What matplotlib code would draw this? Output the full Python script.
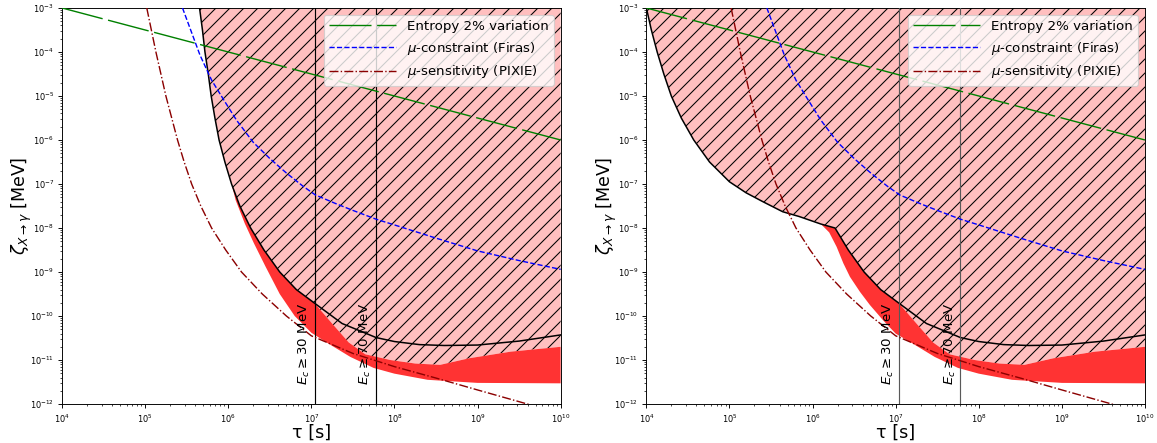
import numpy as np
import matplotlib.pyplot as plt

# all values as log10(tau [s]) and log10(zeta [MeV])

# entropy 2% variation
lt_entropy = [4, 5, 6, 7, 8, 9, 10]
lz_entropy = [-3.0, -3.5, -4.0, -4.5, -5.0, -5.5, -6.0]

# mu-constraint (Firas)
lt_firas = [5.45, 5.66, 5.80, 5.95, 6.10, 6.30, 6.50, 6.70, 6.90, 7.05, 7.30, 7.50, 7.78,
            8.0, 8.5, 9.0, 9.5, 10.0]
lz_firas = [-3.0, -4.07, -4.64, -5.1, -5.55, -6.05, -6.42, -6.75, -7.05, -7.25, -7.45, -7.6, -7.8,
            -7.93, -8.23, -8.52, -8.74, -8.94]

# mu-sensitivity (PIXIE)
lt_pixie = [5.02, 5.075, 5.13, 5.19, 5.25, 5.32, 5.39, 5.47, 5.56, 5.67, 5.80, 5.97, 6.16, 6.41,
            6.70, 7.0, 7.5, 8.0, 8.5, 9.0, 9.6, 9.8]
lz_pixie = [-3.0, -3.5, -4.0, -4.5, -5.0, -5.5, -6.0, -6.5, -7.0, -7.5, -8.0, -8.5, -9.0, -9.5,
            -10.0, -10.45, -10.85, -11.15, -11.41, -11.68, -12.0, -12.12]

# excluded-region boundary (black line), left panel up to 1.1e7
lt_bound_l = [5.655, 5.69, 5.72, 5.76, 5.795, 5.84, 5.89, 5.96, 6.04, 6.14, 6.27, 6.43, 6.62, 6.82]
lz_bound_l = [-3.0, -3.5, -4.0, -4.5, -5.0, -5.5, -6.0, -6.5, -7.0, -7.5, -8.0, -8.5, -9.0, -9.4]

# excluded-region boundary, right panel up to 1.1e7
lt_bound_r = [4.0, 4.06, 4.13, 4.21, 4.30, 4.42, 4.57, 4.76, 5.0, 5.2, 5.4, 5.64, 5.84, 6.10, 6.27,
              6.43, 6.62, 6.82]
lz_bound_r = [-3.0, -3.5, -4.0, -4.5, -5.0, -5.5, -6.0, -6.5, -6.95, -7.2, -7.4, -7.63, -7.74, -7.91,
              -8.0, -8.5, -9.0, -9.4]

# black line beyond 1.1e7 (both panels)
lt_tail = [7.04, 7.37, 7.78, 8.0, 8.3, 8.6, 9.0, 9.5, 10.0]
lz_tail = [-9.71, -10.17, -10.49, -10.58, -10.65, -10.67, -10.66, -10.57, -10.43]

# red band: upper edge beyond 1.1e7 (below it the band reaches the black line)
lt_band_top = [7.04, 7.25, 7.45, 7.65, 7.95, 8.25, 8.55, 8.9, 9.4, 10.0]
lz_band_top = [-9.71, -10.17, -10.6, -10.87, -11.0, -11.08, -11.11, -10.96, -10.81, -10.70]

# red band: lower edges
lt_band_low_l = [6.02, 6.09, 6.2, 6.31, 6.45, 6.62, 6.8, 7.0, 7.2, 7.47, 7.75, 8.0, 8.4, 9.0, 10.0]
lz_band_low_l = [-6.85, -7.37, -7.9, -8.35, -8.88, -9.5, -10.0, -10.38, -10.62, -10.93, -11.18,
                 -11.31, -11.45, -11.52, -11.53]
lt_band_low_r = [6.10, 6.2, 6.29, 6.37, 6.45, 6.57, 6.69, 6.85, 7.0, 7.2, 7.47, 7.75, 8.0, 8.4,
                 9.0, 10.0]
lz_band_low_r = [-7.91, -8.1, -8.43, -8.8, -9.11, -9.45, -9.75, -10.1, -10.4, -10.62, -10.93,
                 -11.18, -11.31, -11.45, -11.52, -11.53]

tau_ec = [1.1e7, 6e7]
ec_labels = [r'$E_c \geq 30$ MeV', r'$E_c \geq 70$ MeV']

plt.rcParams['hatch.linewidth'] = 0.9


def p(v):
    return list(10.0 ** np.array(v))


fig, axes = plt.subplots(1, 2, figsize=(1157 / 84, 443 / 84), dpi=84)
plt.subplots_adjust(left=0.0536, right=0.9896, bottom=0.088, top=0.982, wspace=0.172)


def panel(ax, lt_b, lz_b, lt_lo, lz_lo, vcol):
    tb, zb = p(lt_b), p(lz_b)
    ttop, ztop = p(lt_band_top), p(lz_band_top)
    # hatched excluded region
    ax.fill(tb + ttop + [1e10, tb[0]], zb + ztop + [1e-3, 1e-3],
            facecolor='#ffbfbf', edgecolor='k', hatch='//', linewidth=0, zorder=1)
    # red band, its top follows the black line until 1.1e7
    start = lt_lo[0]
    up_t = [t for t, l in zip(tb, lt_b) if l >= start] + ttop
    up_z = [z for z, l in zip(zb, lt_b) if l >= start] + ztop
    lo_t, lo_z = p(lt_lo), p(lz_lo)
    ax.fill(lo_t[:1] + up_t + lo_t[::-1], lo_z[:1] + up_z + lo_z[::-1],
            color='#ff3333', linewidth=0, zorder=2)
    ax.plot(tb + p(lt_tail), zb + p(lz_tail), color='k', lw=1.3, zorder=3)

    ax.plot(p(lt_entropy), p(lz_entropy), color='green', lw=1.2, dashes=(30, 4),
            label='Entropy 2% variation', zorder=4)
    ax.plot(p(lt_firas), p(lz_firas), color='blue', lw=1.2, ls='--',
            label=r'$\mu$-constraint (Firas)', zorder=4)
    ax.plot(p(lt_pixie), p(lz_pixie), color='darkred', lw=1.2, ls='-.',
            label=r'$\mu$-sensitivity (PIXIE)', zorder=4)

    for t, lab in zip(tau_ec, ec_labels):
        ax.axvline(t, color=vcol, lw=1.0, zorder=3)
        ax.text(t * 0.93, 2.7e-12, lab, rotation=90, ha='right', va='bottom',
                fontsize=11.5, zorder=5)

    ax.set_xscale('log')
    ax.set_yscale('log')
    ax.set_xlim(1e4, 1e10)
    ax.set_ylim(1e-12, 1e-3)
    ax.set_xlabel('τ [s]', fontsize=15, labelpad=-1)
    ax.set_ylabel(r'$\zeta_{X\rightarrow\gamma}$ [MeV]', fontsize=15, labelpad=-4)
    ax.tick_params(labelsize=7)
    ax.legend(loc='upper right', fontsize=11.5, handlelength=5)


panel(axes[0], lt_bound_l, lz_bound_l, lt_band_low_l, lz_band_low_l, 'k')
panel(axes[1], lt_bound_r, lz_bound_r, lt_band_low_r, lz_band_low_r, '0.35')

plt.savefig('out.png', dpi=84)
